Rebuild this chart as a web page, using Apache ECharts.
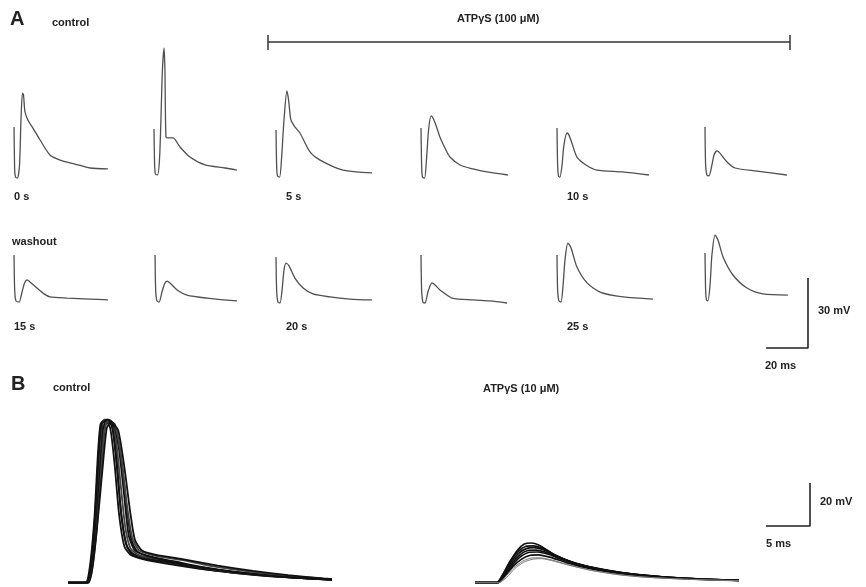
<!DOCTYPE html>
<html>
<head>
    <meta charset="utf-8">
    <title>ATPγS traces</title>
    <script src="https://cdn.jsdelivr.net/npm/echarts@6/dist/echarts.min.js"></script>
    <style>
        body { margin: 0; background: #fff; }
        #chart1 { width: 866px; height: 587px; }
    </style>
</head>
<body>
<div id="chart1"></div>
<script type="text/javascript">
    // ---- panel A: single sweeps, [time ms, mV above row baseline] ----
    var traceA1 = [[0.5,20.6],[0.8,2.1],[1.2,-0.9],[2.1,-1.3],[3.1,4.3],[3.8,23.6],[4.5,35.1],[5.0,34.3],[5.7,27.0],[7.1,23.6],[9.5,20.1],[12.9,15.0],[17.6,8.6],[22.4,6.4],[29.5,4.7],[36.7,3.0],[45.2,2.6]];
    var traceA2 = [[0,19.7],[0.3,4.3],[0.7,0.4],[1.7,0],[2.6,6.4],[3.3,23.6],[4.0,45.0],[4.8,54.4],[5.2,45.0],[5.7,16.3],[6.7,15.9],[9.0,15.9],[12.4,12.0],[17.1,7.7],[24.3,4.3],[33.8,3.0],[39.5,2.1]];
    var traceA3 = [[0,19.3],[0.3,4.3],[0.7,-0.4],[1.7,-0.9],[2.6,6.4],[3.8,23.6],[5.2,36.0],[6.0,32.1],[7.1,23.6],[9.0,20.6],[11.4,18.0],[16.2,9.9],[21.0,6.4],[31.9,2.1],[45.7,0.9]];
    var traceA4 = [[0,20.1],[0.3,4.3],[0.7,-0.9],[1.7,-1.3],[2.6,6.4],[3.6,19.3],[4.8,25.3],[5.7,24.4],[7.1,21.4],[9.0,16.3],[11.4,11.6],[13.8,7.7],[18.6,4.3],[24.8,2.6],[31.4,1.3],[41.4,0]];
    var traceA5 = [[0,20.1],[0.3,4.3],[0.7,-0.4],[1.4,-0.9],[2.4,4.3],[3.3,12.9],[4.8,18.0],[5.7,17.1],[7.1,13.7],[9.5,7.7],[13.8,4.3],[19.0,2.1],[31.0,1.3],[43.8,0]];
    var traceA6 = [[0,20.6],[0.3,4.3],[0.9,0],[1.9,-0.4],[3.3,4.3],[4.3,8.6],[5.7,10.3],[7.1,9.4],[10.5,5.6],[14.3,3.0],[24.8,1.7],[39.0,0]];
    var traceA7 = [[0.5,20.6],[0.8,5.6],[1.4,0.9],[2.9,0.4],[4.3,4.7],[5.5,8.6],[6.7,9.9],[8.1,9.0],[11.4,6.4],[14.8,3.9],[17.6,2.6],[25.7,2.1],[36.7,1.7],[45.2,1.3]];
    var traceA8 = [[0.5,20.6],[0.8,5.6],[1.4,0.9],[2.4,0.4],[3.8,4.7],[5.0,8.1],[6.2,9.4],[7.6,8.6],[11.0,5.6],[15.7,3.4],[25.2,2.1],[39.5,0.9]];
    var traceA9 = [[0,19.7],[0.3,5.6],[0.9,0.4],[1.9,0],[2.9,5.6],[3.8,14.1],[4.8,17.1],[6.2,15.9],[9.0,10.7],[12.9,6.4],[17.6,3.9],[25.7,2.6],[35.2,1.7],[45.7,1.3]];
    var traceA10 = [[0,20.6],[0.3,5.6],[0.9,0.4],[1.9,0],[3.3,4.7],[4.3,7.3],[5.2,8.6],[6.7,7.7],[9.0,5.6],[14.8,2.1],[24.8,1.3],[32.9,0.9],[41.0,0]];
    var traceA11 = [[0,20.6],[0.3,5.6],[0.9,0.9],[1.9,0.4],[2.9,7.7],[3.8,18.4],[5.2,25.7],[6.7,23.6],[9.5,15.4],[14.3,8.6],[20.5,4.7],[31.4,2.6],[45.7,1.7]];
    var traceA12 = [[0,21.4],[0.3,5.6],[0.7,1.3],[1.4,0.9],[2.4,7.7],[3.3,20.6],[4.8,29.1],[6.2,27.0],[8.6,19.7],[13.3,12.0],[20.0,6.4],[27.6,3.9],[39.5,3.4]];
    var tracesA = [traceA1, traceA2, traceA3, traceA4, traceA5, traceA6,
                   traceA7, traceA8, traceA9, traceA10, traceA11, traceA12];
    var timeLabels = ['0 s', '', '5 s', '', '10 s', '', '15 s', '', '20 s', '', '25 s', ''];

    // ---- panel B: superimposed sweeps, [time ms, mV] ----
    var control1 = [[0,0],[2.0,0],[2.5,8],[3.0,30],[3.4,60],[3.7,74],[4.2,76],[4.8,72],[5.3,55],[5.8,32],[6.4,17],[7.1,13],[8.5,11],[11,9],[15,6.5],[19,4.5],[23,3],[27,2],[30,1.5]];
    var control2 = [[0,0],[2.1,0],[2.7,10],[3.2,35],[3.6,64],[3.9,75],[4.6,76],[5.1,71],[5.6,52],[6.1,30],[6.7,17],[7.4,13.5],[9,11.5],[12,9],[16,6],[20,4.2],[24,2.8],[28,1.8],[30,1.4]];
    var control3 = [[0,0],[2.1,0],[2.8,12],[3.3,38],[3.8,68],[4.1,76],[4.9,75.5],[5.4,68],[6.0,45],[6.5,26],[7.1,16],[8,13],[10,11],[13,8.5],[17,5.8],[21,4],[25,2.6],[29,1.6],[30,1.5]];
    var control4 = [[0,0],[2.2,0],[2.9,14],[3.5,45],[4.0,72],[4.4,76],[5.2,74],[5.8,62],[6.4,40],[6.9,22],[7.6,15],[9,12.5],[11,10.5],[14,8],[18,5.5],[22,3.8],[26,2.4],[30,1.3]];
    var control5 = [[0,0],[2.2,0],[3.0,16],[3.7,50],[4.2,73],[4.6,75],[5.4,72],[6.1,56],[6.7,34],[7.2,20],[7.9,14.5],[9.5,12],[12,10],[15,7.5],[19,5],[23,3.4],[27,2.2],[30,1.5]];
    var control6 = [[0,0],[2.3,0],[3.0,14],[3.6,42],[4.1,70],[4.5,75],[5.3,74],[6.0,60],[6.7,36],[7.3,21],[8.1,15],[10,12.5],[13,10.5],[16,8],[20,5.5],[24,3.6],[28,2.2],[30,1.6]];
    var control7 = [[0,0],[2.3,0],[3.1,18],[3.9,52],[4.4,72],[4.9,75],[5.7,71],[6.4,54],[7.1,32],[7.6,20],[8.4,15],[10,13],[13,11],[17,8],[21,5.5],[25,3.5],[29,2],[30,1.7]];
    var control8 = [[0,0],[2.1,0],[2.6,9],[3.1,33],[3.5,62],[3.8,74],[4.5,76],[5.0,73],[5.5,58],[6.0,34],[6.6,18],[7.3,13],[8.8,11],[11.5,9.5],[15.5,6.8],[19.5,4.6],[23.5,3],[27.5,1.9],[30,1.4]];
    var atp1 = [[0,0],[2.5,0],[3.2,4],[4.0,10],[4.8,15],[5.6,18],[6.4,18.5],[7.5,17],[9,13],[11,9.5],[13,7.3],[16,5],[19,3.5],[22,2.5],[26,1.6],[30,1.2]];
    var atp2 = [[0,0],[2.5,0],[3.2,4],[4.0,10],[4.9,14.5],[5.8,17],[6.6,17.2],[7.8,15.8],[9.3,12.5],[11.3,9.2],[13.5,7],[16.5,4.8],[19.5,3.3],[23,2.2],[27,1.5],[30,1.1]];
    var atp3 = [[0,0],[2.6,0],[3.3,4],[4.1,9.5],[5.0,13.8],[5.9,16],[6.7,16.3],[8,15],[9.5,12],[11.5,9],[14,6.5],[17,4.5],[20,3],[24,2],[28,1.3],[30,1.1]];
    var atp4 = [[0,0],[2.5,0],[3.3,3.5],[4.2,9],[5.1,13],[6.0,15],[6.9,15.2],[8.2,14],[9.8,11.3],[12,8.3],[14.5,6],[17.5,4.2],[21,2.8],[25,1.8],[30,1.1]];
    var atp5 = [[0,0],[2.6,0],[3.4,3.5],[4.3,8.5],[5.2,12.2],[6.2,14.2],[7.1,14.3],[8.5,13],[10,10.6],[12.5,7.5],[15,5.5],[18,3.8],[22,2.5],[26,1.6],[30,1.2]];
    var atp6 = [[0,0],[2.6,0],[3.4,3],[4.3,7.5],[5.3,11],[6.3,12.8],[7.2,13],[8.6,11.8],[10.3,9.5],[12.8,6.8],[15.5,4.8],[18.5,3.3],[22.5,2.2],[26.5,1.4],[30,1.1]];
    var atp7 = [[0,0],[2.7,0],[3.5,3],[4.4,7],[5.4,10],[6.4,11.5],[7.4,11.6],[8.8,10.5],[10.5,8.5],[13,6],[16,4],[19,2.7],[23,1.8],[27,1.2],[30,1]];
    var atp8 = [[0,0],[2.7,0],[3.6,2.5],[4.5,6.5],[5.5,9.5],[6.6,11],[7.6,11.2],[9,10],[10.8,8],[13.5,5.5],[16.5,3.6],[20,2.4],[24,1.6],[28,1.1],[30,0.9]];
    var controlB = [control1, control2, control3, control4, control5, control6, control7, control8];
    var atpB = [atp1, atp2, atp3, atp4, atp5, atp6, atp7, atp8];

    // scale bars
    var scaleA = { ms: 20, mV: 30 };
    var scaleB = { ms: 5, mV: 20 };

    // layout (pixels)
    var colLeft = [13, 154, 276, 421, 557, 705];
    var rowZero = [175, 303];
    var pxPerMsA = 2.1, pxPerMvA = 70 / 30;
    var pxPerMsB = 8.8, pxPerMvB = 43 / 20;

    var grids = [], xAxes = [], yAxes = [], series = [];
    function addGrid(g, xr, yr) {
        grids.push(g);
        var i = grids.length - 1;
        xAxes.push({ gridIndex: i, type: 'value', min: xr[0], max: xr[1], show: false });
        yAxes.push({ gridIndex: i, type: 'value', min: yr[0], max: yr[1], show: false });
        return i;
    }
    function addLine(i, data, color, width, smooth) {
        series.push({
            type: 'line', xAxisIndex: i, yAxisIndex: i, data: data,
            showSymbol: false, clip: false, silent: true,
            smooth: smooth || false,
            lineStyle: { color: color, width: width }
        });
    }

    // panel A
    tracesA.forEach(function (tr, k) {
        var row = Math.floor(k / 6), col = k % 6;
        var i = addGrid({
            left: colLeft[col], width: 50 * pxPerMsA,
            top: rowZero[row] - 60 * pxPerMvA, height: 70 * pxPerMvA
        }, [0, 50], [-10, 60]);
        addLine(i, tr, '#505050', 1.3, 0.25);
    });

    // panel B
    var gc = addGrid({ left: 68, width: 32 * pxPerMsB, top: 583 - 80 * pxPerMvB, height: 82 * pxPerMvB }, [0, 32], [-2, 80]);
    controlB.forEach(function (tr, k) { addLine(gc, tr, k % 3 === 2 ? '#444' : '#111', 1.8, 0.2); });
    var ga = addGrid({ left: 475, width: 32 * pxPerMsB, top: 583 - 80 * pxPerMvB, height: 82 * pxPerMvB }, [0, 32], [-2, 80]);
    atpB.forEach(function (tr, k) { addLine(ga, tr, k >= 6 ? '#777' : '#111', k >= 6 ? 1 : 1.7, 0.2); });

    // scale bars
    var gsa = addGrid({ left: 766, width: scaleA.ms * pxPerMsA, top: 348 - scaleA.mV * pxPerMvA, height: scaleA.mV * pxPerMvA }, [0, scaleA.ms], [0, scaleA.mV]);
    addLine(gsa, [[0, 0], [scaleA.ms, 0], [scaleA.ms, scaleA.mV]], '#222', 1.6);
    var gsb = addGrid({ left: 766, width: scaleB.ms * pxPerMsB, top: 526 - scaleB.mV * pxPerMvB, height: scaleB.mV * pxPerMvB }, [0, scaleB.ms], [0, scaleB.mV]);
    addLine(gsb, [[0, 0], [scaleB.ms, 0], [scaleB.ms, scaleB.mV]], '#222', 1.6);

    var lab = 'bold 11px "Liberation Sans", Arial, sans-serif';
    var big = 'bold 20px "Liberation Sans", Arial, sans-serif';
    function txt(x, y, s, font) {
        return { type: 'text', left: x, top: y, silent: true, style: { text: s, font: font || lab, fill: '#222' } };
    }
    var graphics = [
        txt(10, 9, 'A', big), txt(52, 17, 'control'),
        txt(457, 13, 'ATPγS (100 μM)'),
        txt(12, 236, 'washout'),
        txt(818, 305, '30 mV'), txt(765, 360, '20 ms'),
        txt(11, 374, 'B', big), txt(53, 382, 'control'),
        txt(483, 383, 'ATPγS (10 μM)'),
        txt(820, 496, '20 mV'), txt(766, 538, '5 ms'),
        { type: 'line', silent: true, shape: { x1: 268, y1: 42, x2: 790, y2: 42 }, style: { stroke: '#333', lineWidth: 1.5 } },
        { type: 'line', silent: true, shape: { x1: 268, y1: 35, x2: 268, y2: 50 }, style: { stroke: '#333', lineWidth: 1.5 } },
        { type: 'line', silent: true, shape: { x1: 790, y1: 35, x2: 790, y2: 50 }, style: { stroke: '#333', lineWidth: 1.5 } }
    ];
    timeLabels.forEach(function (s, k) {
        if (!s) return;
        var row = Math.floor(k / 6), col = k % 6;
        graphics.push(txt(colLeft[col] + (col === 0 ? 1 : 10), row === 0 ? 191 : 321, s));
    });

    var myChart1 = echarts.init(document.getElementById('chart1'));
    myChart1.setOption({
        animation: false,
        backgroundColor: '#fff',
        grid: grids,
        xAxis: xAxes,
        yAxis: yAxes,
        series: series,
        graphic: graphics
    });
</script>
</body>
</html>
